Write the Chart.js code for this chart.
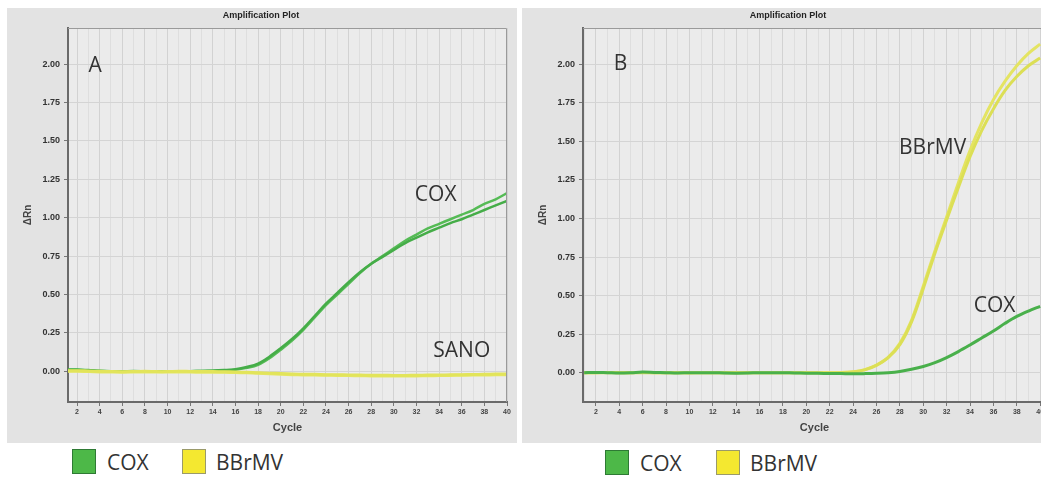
<!DOCTYPE html>
<html>
<head>
<meta charset="utf-8">
<script src="https://cdn.jsdelivr.net/npm/chart.js@4"></script>
<style>
  html, body { margin: 0; padding: 0; background: #fff; overflow: hidden; width: 1041px; height: 479px; }
  canvas { position: absolute; background: #e3e3e3; }
  #chartA { left: 7px; top: 8px; }
  #chartB { left: 522px; top: 8px; }
  .box { position: absolute; width: 24px; height: 25px; box-sizing: border-box; }
  .green { background: #4db848; border: 1px solid #2e7a34; }
  .yellow { background: #f4e830; border: 1px solid #9a9a6a; }
  .txt { position: absolute; top: 449px; line-height: 26px; font-family: "Open Sans", sans-serif; font-size: 21px; color: #333; }
</style>
</head>
<body>
<canvas id="chartA" width="510" height="435"></canvas>
<canvas id="chartB" width="534" height="435"></canvas>

<div class="box green" style="left:72px; top:449px;"></div>
<div class="txt" style="left:107px;">COX</div>
<div class="box yellow" style="left:182px; top:449px;"></div>
<div class="txt" style="left:216px;">BBrMV</div>

<div class="box green" style="left:605px; top:450px;"></div>
<div class="txt" style="left:640px; top:450px;">COX</div>
<div class="box yellow" style="left:716px; top:450px;"></div>
<div class="txt" style="left:750px; top:450px;">BBrMV</div>

<script>
// ciclos
const cycles = [1,2,3,4,5,6,7,8,9,10,11,12,13,14,15,16,17,18,19,20,21,22,23,24,25,26,27,28,29,30,31,32,33,34,35,36,37,38,39,40];
const xTickLabels = [2,4,6,8,10,12,14,16,18,20,22,24,26,28,30,32,34,36,38,40];
const yTickValues = [0, 0.25, 0.5, 0.75, 1.0, 1.25, 1.5, 1.75, 2.0];

// Painel A
const coxA1 = [0.012,0.012,0.008,0.003,0.0,0.0,0.002,0.0,-0.002,0.0,0.0,0.001,0.002,0.004,0.006,0.01,0.022,0.042,0.085,0.14,0.20,0.27,0.35,0.43,0.50,0.57,0.64,0.70,0.75,0.80,0.85,0.89,0.93,0.96,0.99,1.02,1.05,1.09,1.12,1.16];
const coxA2 = [0.010,0.010,0.006,0.002,0.0,-0.002,0.0,0.001,0.0,-0.002,0.0,0.0,0.002,0.004,0.008,0.014,0.028,0.05,0.095,0.15,0.21,0.28,0.36,0.44,0.51,0.58,0.645,0.70,0.745,0.79,0.835,0.87,0.905,0.935,0.965,0.99,1.02,1.05,1.08,1.11];
const sanoA1 = [0.004,0.004,0.002,0.0,-0.002,-0.003,-0.002,0.0,-0.002,-0.002,0.0,-0.001,-0.002,-0.002,-0.003,-0.004,-0.006,-0.01,-0.012,-0.015,-0.018,-0.02,-0.02,-0.022,-0.022,-0.024,-0.025,-0.026,-0.026,-0.027,-0.027,-0.026,-0.025,-0.024,-0.023,-0.022,-0.021,-0.02,-0.018,-0.017];
const sanoA2 = [0.0,0.0,-0.002,-0.004,-0.005,-0.006,-0.005,-0.004,-0.005,-0.005,-0.004,-0.005,-0.006,-0.006,-0.007,-0.008,-0.01,-0.013,-0.016,-0.019,-0.022,-0.024,-0.025,-0.026,-0.027,-0.028,-0.029,-0.03,-0.031,-0.031,-0.031,-0.03,-0.029,-0.028,-0.027,-0.026,-0.025,-0.024,-0.023,-0.022];

// Painel B
const coxB = [0.0,0.002,0.0,-0.002,0.0,0.004,0.002,0.0,-0.002,0.0,0.0,0.0,-0.002,-0.003,-0.002,0.0,0.0,0.0,-0.002,-0.003,-0.004,-0.005,-0.006,-0.007,-0.006,-0.004,0.0,0.008,0.022,0.04,0.065,0.098,0.137,0.18,0.225,0.27,0.32,0.365,0.40,0.43];
const bbrB1 = [0.0,0.0,0.002,0.0,0.0,0.002,0.0,0.0,0.0,-0.002,0.0,0.0,0.0,0.0,0.0,0.0,0.0,0.0,0.0,0.0,0.0,0.0,0.002,0.006,0.02,0.05,0.10,0.19,0.34,0.56,0.79,1.01,1.23,1.44,1.62,1.77,1.89,1.99,2.07,2.13];
const bbrB2 = [0.0,0.0,0.0,0.0,0.0,0.0,0.0,0.0,0.0,0.0,0.0,0.0,0.0,0.0,0.0,0.0,0.0,0.0,0.0,0.0,0.0,0.0,0.0,0.005,0.018,0.047,0.097,0.182,0.33,0.545,0.775,0.99,1.20,1.40,1.57,1.71,1.83,1.92,1.99,2.04];

function pts(arr) {
    return cycles.map((c, i) => ({ x: c, y: arr[i] }));
}

function serie(arr, cor, largura) {
    return {
        data: pts(arr),
        borderColor: cor,
        borderWidth: largura,
        pointRadius: 0,
        tension: 0.35,
        fill: false
    };
}

// fundo, moldura, título e rótulos do gráfico
const painelPlugin = {
    id: 'painel',
    beforeDraw(chart) {
        const { ctx, chartArea: a } = chart;
        ctx.save();
        ctx.fillStyle = '#ebebeb';
        ctx.fillRect(a.left, a.top, a.right - a.left, a.bottom - a.top);
        ctx.fillStyle = '#222';
        ctx.font = 'bold 9px "Liberation Sans", Arial, sans-serif';
        ctx.textAlign = 'center';
        ctx.textBaseline = 'middle';
        ctx.fillText('Amplification Plot', chart.width / 2 - 1, 8);
        ctx.restore();
    },
    afterDraw(chart) {
        const { ctx, chartArea: a, scales } = chart;
        ctx.save();
        ctx.strokeStyle = '#9a9a9a';
        ctx.lineWidth = 1;
        ctx.beginPath();
        ctx.moveTo(a.left, a.top + 0.5);
        ctx.lineTo(a.right - 0.5, a.top + 0.5);
        ctx.lineTo(a.right - 0.5, a.bottom);
        ctx.stroke();
        ctx.fillStyle = '#333';
        ctx.font = '21px "Open Sans", sans-serif';
        ctx.textAlign = 'center';
        ctx.textBaseline = 'middle';
        (chart.options.plugins.painel.rotulos || []).forEach(r => {
            ctx.fillText(r.text, scales.x.getPixelForValue(r.cycle), scales.y.getPixelForValue(r.value));
        });
        ctx.restore();
    }
};

function makeChart(id, datasets, xmin, xmax, ymin, ymax, rotulos) {
    return new Chart(document.getElementById(id), {
        type: 'line',
        data: { datasets: datasets },
        plugins: [painelPlugin],
        options: {
            responsive: false,
            animation: false,
            layout: { padding: { left: 0, top: 20, right: 10, bottom: 0 } },
            plugins: {
                legend: { display: false },
                tooltip: { enabled: false },
                painel: { rotulos: rotulos }
            },
            scales: {
                x: {
                    type: 'linear',
                    min: xmin,
                    max: xmax,
                    afterFit: s => { s.height = 41; },
                    afterBuildTicks: s => {
                        s.ticks = cycles.filter(c => c >= s.min && c <= s.max).map(c => ({ value: c }));
                    },
                    ticks: {
                        autoSkip: false,
                        maxRotation: 0,
                        padding: 2,
                        color: '#444',
                        font: { size: 7, weight: 'bold', family: '"Liberation Sans", Arial, sans-serif' },
                        callback: v => xTickLabels.includes(v) ? String(v) : ''
                    },
                    grid: {
                        color: c => (c.tick && c.tick.value % 2 === 0) ? '#d2d2d2' : '#dedede',
                        tickColor: c => (c.tick && c.tick.value % 2 === 0) ? '#777' : 'rgba(0,0,0,0)',
                        tickLength: 4
                    },
                    border: { color: '#6a6a6a', width: 2 },
                    title: {
                        display: true,
                        text: 'Cycle',
                        color: '#444',
                        font: { size: 11, weight: 'bold', family: '"Liberation Sans", Arial, sans-serif' },
                        padding: { top: 0, bottom: 8 }
                    }
                },
                y: {
                    min: ymin,
                    max: ymax,
                    afterFit: s => { s.width = 61; },
                    afterBuildTicks: s => { s.ticks = yTickValues.map(v => ({ value: v })); },
                    ticks: {
                        padding: 4,
                        color: '#333',
                        font: { size: 9, weight: 'bold', family: '"Liberation Sans", Arial, sans-serif' },
                        callback: v => v.toFixed(2)
                    },
                    grid: { color: '#d4d4d4', tickColor: '#777', tickLength: 4 },
                    border: { color: '#6a6a6a', width: 2 },
                    title: {
                        display: true,
                        text: 'ΔRn',
                        color: '#444',
                        font: { size: 10, weight: 'bold', family: '"Liberation Sans", Arial, sans-serif' },
                        padding: { top: 15, bottom: 0 }
                    }
                }
            }
        }
    });
}

document.addEventListener('DOMContentLoaded', function () {
    makeChart('chartA', [
        serie(sanoA1, '#e2e45a', 3),
        serie(sanoA2, '#e6e766', 3),
        serie(coxA2, '#45ad48', 2.5),
        serie(coxA1, '#55bb55', 2.5)
    ], 1.2, 40, -0.2, 2.235, [
        { text: 'A', cycle: 3.6, value: 1.99 },
        { text: 'COX', cycle: 33.7, value: 1.15 },
        { text: 'SANO', cycle: 36.0, value: 0.13 }
    ]);

    makeChart('chartB', [
        serie(coxB, '#49b04b', 3),
        serie(bbrB2, '#dcdf55', 3),
        serie(bbrB1, '#e4e462', 3)
    ], 0.9, 40.5, -0.19, 2.235, [
        { text: 'B', cycle: 4.1, value: 2.0 },
        { text: 'BBrMV', cycle: 30.8, value: 1.46 },
        { text: 'COX', cycle: 36.1, value: 0.435 }
    ]);
});
</script>
</body>
</html>
